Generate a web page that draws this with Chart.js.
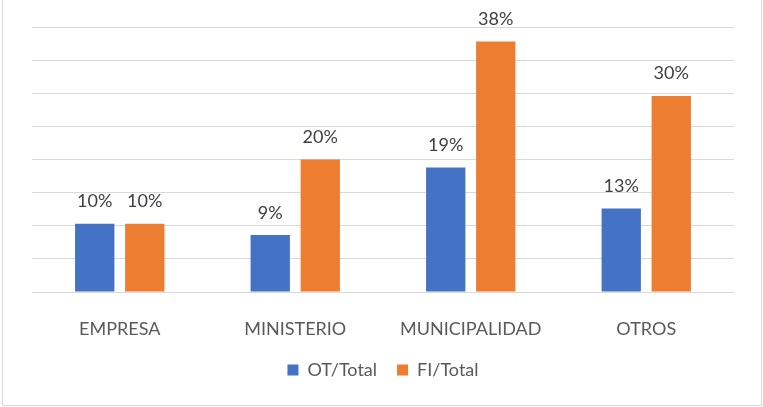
<!DOCTYPE html>
<html>
<head>
<meta charset="utf-8">
<script src="https://cdn.jsdelivr.net/npm/chart.js@4"></script>
<style>
  body { margin: 0; background: #fff; }
  #wrap { width: 763px; height: 407px; position: relative; }
</style>
</head>
<body>
<div id="wrap"><canvas id="tipoChart"></canvas></div>
<script>
const categories = ['EMPRESA', 'MINISTERIO', 'MUNICIPALIDAD', 'OTROS'];
const otTotal = [10.3, 8.6, 18.8, 12.6];
const fiTotal = [10.3, 20.0, 37.8, 29.6];
const seriesNames = ['OT/Total', 'FI/Total'];

const ctx = document.getElementById('tipoChart').getContext('2d');

// outer frame like the spreadsheet chart box
const framePlugin = {
  id: 'frame',
  afterDraw(chart) {
    const c = chart.ctx;
    c.save();
    c.strokeStyle = '#d9d9d9';
    c.lineWidth = 1;
    c.beginPath();
    c.moveTo(2.5, 0);
    c.lineTo(2.5, 405.5);
    c.lineTo(761.5, 405.5);
    c.lineTo(761.5, 0);
    c.stroke();
    c.restore();
  }
};

// percent labels above each bar
const valueLabels = {
  id: 'valueLabels',
  afterDatasetsDraw(chart) {
    const c = chart.ctx;
    c.save();
    c.font = '18px Lato';
    c.fillStyle = '#404040';
    c.textAlign = 'center';
    c.textBaseline = 'alphabetic';
    chart.data.datasets.forEach((ds, i) => {
      chart.getDatasetMeta(i).data.forEach((bar, j) => {
        c.fillText(Math.round(ds.data[j]) + '%', bar.x, bar.y - 16.5);
      });
    });
    c.restore();
  }
};

const tipoChart = new Chart(ctx, {
  type: 'bar',
  data: {
    labels: categories,
    datasets: [
      { label: seriesNames[0], data: otTotal, backgroundColor: '#4472C4' },
      { label: seriesNames[1], data: fiTotal, backgroundColor: '#ED7D31' }
    ]
  },
  options: {
    responsive: true,
    maintainAspectRatio: false,
    animation: false,
    categoryPercentage: 0.57,
    barPercentage: 0.786,
    layout: { padding: { left: 32, right: 29, top: 27, bottom: 18 } },
    plugins: {
      legend: {
        position: 'bottom',
        labels: {
          boxWidth: 11,
          boxHeight: 11,
          padding: 20,
          color: '#595959',
          font: { family: 'Lato', size: 18 }
        }
      },
      tooltip: { enabled: false }
    },
    scales: {
      x: {
        grid: { display: false },
        border: { display: false },
        ticks: {
          padding: 18,
          color: '#595959',
          font: { family: 'Lato', size: 18 }
        },
        afterFit(scale) { scale.height = 49; }
      },
      y: {
        min: 0,
        max: 40,
        border: { display: false },
        grid: { color: '#d9d9d9', lineWidth: 1, drawTicks: false },
        ticks: { display: false, stepSize: 5 }
      }
    }
  },
  plugins: [framePlugin, valueLabels]
});
</script>
</body>
</html>
